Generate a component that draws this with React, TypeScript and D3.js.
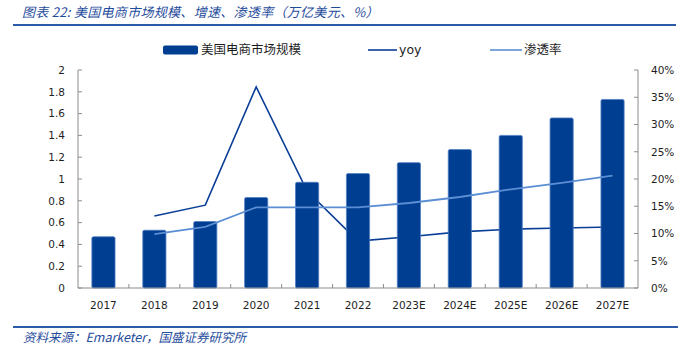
import React from "react";
import * as d3 from "d3";

const categories = ["2017", "2018", "2019", "2020", "2021", "2022", "2023E", "2024E", "2025E", "2026E", "2027E"];
const marketSize = [0.47, 0.53, 0.61, 0.83, 0.97, 1.05, 1.15, 1.27, 1.4, 1.56, 1.73];
const yoy: (number | null)[] = [null, 13.2, 15.2, 36.9, 17.8, 8.6, 9.4, 10.3, 10.8, 11.0, 11.2];
const penetration: (number | null)[] = [null, 9.9, 11.2, 14.8, 14.8, 14.8, 15.6, 16.7, 18.1, 19.3, 20.6];
const leftTicks = [0, 0.2, 0.4, 0.6, 0.8, 1, 1.2, 1.4, 1.6, 1.8, 2];
const rightTicks = [0, 5, 10, 15, 20, 25, 30, 35, 40];

const title = "图表 22: 美国电商市场规模、增速、渗透率（万亿美元、%）";
const source = "资料来源：Emarketer，国盛证券研究所";
const legendNames = ["美国电商市场规模", "yoy", "渗透率"];

const W = 681, H = 356;
const L = 78, R = 638, T = 70, B = 288;
const BAR = "#003E92";
const BAR_EDGE = "#4F7DC4";
const YOY = "#0B3E96";
const PEN = "#5B8ED3";
const AXIS = "#8C8C8C";
const TXT = "#1E1E1E";
const BLUE_TXT = "#1F4C9C";
const NUM_FONT = "'DejaVu Sans', Verdana, sans-serif";
const CJK_FONT = "'Noto Sans CJK SC', 'Noto Sans', sans-serif";

export default function App() {
  const x = d3.scaleBand<string>().domain(categories).range([L, R]).paddingInner(0).paddingOuter(0);
  const yL = d3.scaleLinear().domain([0, 2]).range([B, T]);
  const yR = d3.scaleLinear().domain([0, 40]).range([B, T]);
  const bw = x.bandwidth() * 0.455;
  const cx = (c: string) => (x(c) as number) + x.bandwidth() / 2;

  const lineGen = d3
    .line<[string, number | null]>()
    .defined((d) => d[1] != null)
    .x((d) => cx(d[0]))
    .y((d) => yR(d[1] as number));

  const yoyPath = lineGen(categories.map((c, i) => [c, yoy[i]]) as [string, number | null][]) || "";
  const penPath = lineGen(categories.map((c, i) => [c, penetration[i]]) as [string, number | null][]) || "";

  const boundaries = d3.range(1, categories.length).map((i) => L + i * x.bandwidth());

  return (
    <svg width={W} height={H} style={{ position: "absolute", left: 0, top: 0, background: "#fff" }}>
      {/* title */}
      <text x={22} y={17} fontFamily={CJK_FONT} fontSize={13} fontStyle="italic" fill={BLUE_TXT} letterSpacing={0.3}>
        {title}
      </text>
      <line x1={13} x2={676} y1={25} y2={25} stroke="#2B5AA6" strokeWidth={2} />

      {/* legend */}
      <rect x={163} y={45.5} width={35} height={9} rx={2} fill={BAR} />
      <text x={201} y={54} fontFamily={CJK_FONT} fontSize={12.5} fill={TXT}>
        {legendNames[0]}
      </text>
      <line x1={368} x2={397} y1={50} y2={50} stroke={YOY} strokeWidth={1.6} />
      <text x={399} y={54} fontFamily={NUM_FONT} fontSize={12.5} fill={TXT}>
        {legendNames[1]}
      </text>
      <line x1={490} x2={522} y1={50} y2={50} stroke={PEN} strokeWidth={1.6} />
      <text x={524} y={54} fontFamily={CJK_FONT} fontSize={12.5} fill={TXT}>
        {legendNames[2]}
      </text>

      {/* yoy line (behind bars) */}
      <path d={yoyPath} fill="none" stroke={YOY} strokeWidth={1.6} strokeLinejoin="miter" />

      {/* bars */}
      {categories.map((c, i) => (
        <rect
          key={c}
          x={cx(c) - bw / 2}
          y={yL(marketSize[i])}
          width={bw}
          height={B - yL(marketSize[i])}
          rx={1.5}
          fill={BAR}
          stroke={BAR_EDGE}
          strokeWidth={0.8}
        />
      ))}

      {/* penetration line (over bars) */}
      <path d={penPath} fill="none" stroke={PEN} strokeWidth={1.8} />

      {/* axes */}
      <line x1={L} x2={L} y1={T} y2={B} stroke={AXIS} strokeWidth={1} />
      <line x1={R} x2={R} y1={T} y2={B} stroke={AXIS} strokeWidth={1} />
      <line x1={L} x2={R} y1={B} y2={B} stroke={AXIS} strokeWidth={1.2} />
      {leftTicks.map((t) => (
        <g key={"l" + t}>
          <line x1={L} x2={L + 4} y1={yL(t)} y2={yL(t)} stroke={AXIS} />
          <text x={65} y={yL(t) + 3.8} textAnchor="end" fontFamily={NUM_FONT} fontSize={10.5} fill={TXT}>
            {String(t)}
          </text>
        </g>
      ))}
      {rightTicks.map((t) => (
        <g key={"r" + t}>
          <line x1={R - 4} x2={R} y1={yR(t)} y2={yR(t)} stroke={AXIS} />
          <text x={651} y={yR(t) + 3.8} textAnchor="start" fontFamily={NUM_FONT} fontSize={10.5} fill={TXT}>
            {t + "%"}
          </text>
        </g>
      ))}
      {boundaries.map((bx, i) => (
        <line key={"b" + i} x1={bx} x2={bx} y1={B - 4} y2={B} stroke={AXIS} />
      ))}
      {categories.map((c) => (
        <text key={"x" + c} x={cx(c)} y={309} textAnchor="middle" fontFamily={NUM_FONT} fontSize={10.5} fill={TXT}>
          {c}
        </text>
      ))}

      {/* footer */}
      <line x1={13} x2={678} y1={327} y2={327} stroke="#2B5AA6" strokeWidth={2} />
      <text x={23} y={342} fontFamily={CJK_FONT} fontSize={12.5} fontStyle="italic" fill={BLUE_TXT}>
        {source}
      </text>
    </svg>
  );
}
